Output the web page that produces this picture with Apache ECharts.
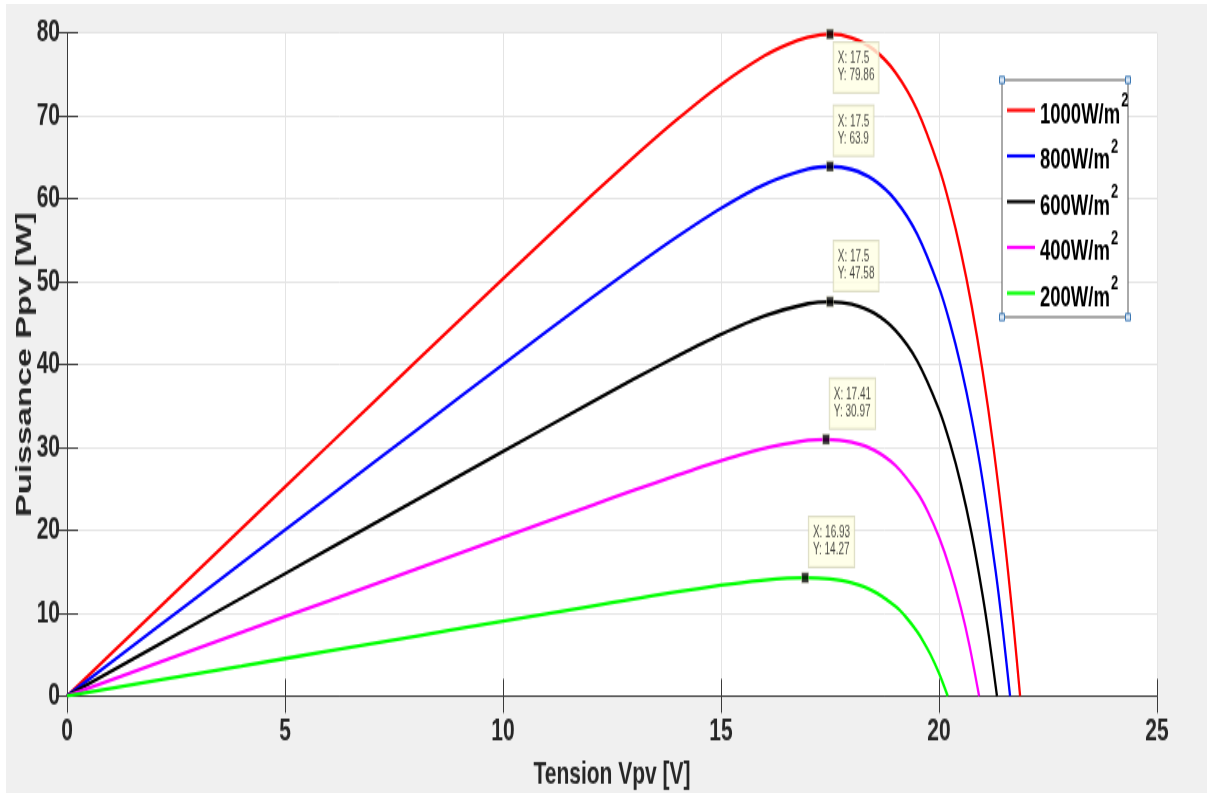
<!DOCTYPE html>
<html>
<head>
<meta charset="utf-8">
<script src="https://cdn.jsdelivr.net/npm/echarts@6/dist/echarts.min.js"></script>
<style>
  html, body { margin: 0; padding: 0; background: #ffffff; width: 1207px; height: 793px; overflow: hidden; }
  #chart { position: absolute; left: 6px; top: 4px; width: 1201px; height: 509px;
           transform: scaleY(1.5501); transform-origin: 0 0; }
</style>
</head>
<body>
<div id="chart"></div>
<script>
// ---- data (Tension Vpv [V], Puissance Ppv [W]) ----
const seriesNames = ['1000W/m²', '800W/m²', '600W/m²', '400W/m²', '200W/m²'];
const seriesColors = ['#ff0000', '#0000ff', '#000000', '#ff00ff', '#00ff00'];

const v1000 = [0, 2, 4, 6, 8, 10, 12, 13, 14, 15, 16, 16.5, 17, 17.5, 18, 18.5, 19, 19.5, 20, 20.25, 20.5, 20.75, 21, 21.25, 21.5, 21.7, 21.86];
const p1000 = [0, 10.09, 20.18, 30.26, 40.34, 50.36, 60.24, 65.03, 69.60, 73.78, 77.27, 78.58, 79.48, 79.86, 79.41, 78.0, 75.26, 70.71, 63.78, 59.17, 53.65, 47.05, 39.2, 29.98, 19.09, 9.02, 0];

const v800 = [0, 2, 4, 6, 8, 10, 12, 13, 14, 15, 16, 17, 17.5, 18, 18.5, 19, 19.5, 20, 20.25, 20.5, 20.75, 21, 21.3, 21.45, 21.63];
const p800 = [0, 8.01, 16.02, 24.03, 32.03, 40.02, 47.90, 51.75, 55.44, 58.86, 61.74, 63.59, 63.9, 63.53, 62.29, 59.84, 55.72, 49.32, 45.01, 39.8, 33.51, 26.0, 15.02, 8.61, 0];

const v600 = [0, 2, 4, 6, 8, 10, 12, 13, 14, 15, 16, 17, 17.5, 18, 18.5, 19, 19.5, 20, 20.25, 20.5, 20.75, 21, 21.15, 21.33];
const p600 = [0, 5.91, 11.81, 17.72, 23.62, 29.51, 35.36, 38.24, 41.02, 43.63, 45.87, 47.35, 47.58, 47.29, 46.24, 44.12, 40.44, 34.58, 30.55, 25.61, 19.54, 12.17, 7.02, 0];

const v400 = [0, 2, 4, 6, 8, 10, 12, 13, 14, 15, 16, 17, 17.41, 18, 18.5, 19, 19.5, 19.75, 20, 20.25, 20.5, 20.7, 20.92];
const p400 = [0, 3.83, 7.66, 11.48, 15.31, 19.13, 22.94, 24.82, 26.65, 28.38, 29.88, 30.85, 30.97, 30.65, 29.71, 27.83, 24.54, 22.17, 19.16, 15.38, 10.66, 6.06, 0];

const v200 = [0, 2, 4, 6, 8, 10, 12, 13, 14, 15, 16, 16.93, 17.5, 18, 18.5, 19, 19.25, 19.5, 19.65, 19.8, 20.0, 20.2];
const p200 = [0, 1.81, 3.61, 5.42, 7.22, 9.03, 10.82, 11.71, 12.57, 13.36, 14.0, 14.27, 14.12, 13.64, 12.63, 10.82, 9.48, 7.76, 6.50, 5.05, 2.76, 0];

// data tips (maximum power points)
const tipX = [17.5, 17.5, 17.5, 17.41, 16.93];
const tipY = [79.86, 63.9, 47.58, 30.97, 14.27];

const xTicks = { min: 0, max: 25, interval: 5 };
const yTicks = { min: 0, max: 80, interval: 10 };

const xTitle = 'Tension Vpv [V]';
const yTitle = 'Puissance Ppv [W]';

// ---- build ----
const allV = [v1000, v800, v600, v400, v200];
const allP = [p1000, p800, p600, p400, p200];

const FONT = '"Liberation Sans", Arial, Helvetica, sans-serif';
const AX = '#3a3a3a';
const TXT = '#262626';

const series = seriesNames.map((name, i) => ({
  name: name,
  type: 'line',
  data: allV[i].map((v, k) => [v, allP[i][k]]),
  showSymbol: false,
  symbol: 'none',
  smooth: 0.25,
  lineStyle: { color: seriesColors[i], width: 2.3 },
  itemStyle: { color: seriesColors[i] },
  z: 3
}));

series.push({
  name: 'tips',
  type: 'scatter',
  data: tipX.map((x, i) => ({
    value: [x, tipY[i]],
    label: {
      position: i === 0 ? [7.5, 9] : [7.5, -35.5]
    }
  })),
  symbol: 'rect',
  symbolSize: [7, 6.5],
  itemStyle: { color: '#000000', borderColor: '#e8e8c8', borderWidth: 0.5 },
  z: 10,
  silent: true,
  label: {
    show: true,
    formatter: (p) => 'X: ' + tipX[p.dataIndex] + '\nY: ' + tipY[p.dataIndex],
    fontFamily: FONT,
    fontSize: 10,
    lineHeight: 11,
    color: '#1a1a1a',
    backgroundColor: '#ffffe4',
    borderColor: '#d4d4b8',
    borderWidth: 1,
    padding: [5, 4, 5, 4],
    align: 'left',
    verticalAlign: 'top'
  }
});

const chart = echarts.init(document.getElementById('chart'), null, { renderer: 'canvas' });

const legendLeft = 996, legendTop = 49, legendW = 126, legendH = 153;
const handle = (cx, cy) => ({
  type: 'rect',
  shape: { x: cx - 2.5, y: cy - 2.2, width: 5, height: 4.4 },
  style: { fill: '#dbe8f6', stroke: '#3c78b4', lineWidth: 1 },
  z: 20
});

chart.setOption({
  backgroundColor: '#f0f0f0',
  animation: false,
  grid: {
    left: 61, right: 50, top: 18.7, bottom: 62.6,
    containLabel: false, outerBoundsMode: 'none',
    show: true, backgroundColor: '#ffffff', borderWidth: 0
  },
  xAxis: [{
    type: 'value', min: xTicks.min, max: xTicks.max, interval: xTicks.interval,
    position: 'bottom',
    name: xTitle, nameLocation: 'middle', nameGap: 40, nameMoveOverlap: false,
    nameTextStyle: { fontFamily: FONT, fontSize: 21, fontWeight: 'bold', color: TXT },
    axisLine: { show: true, lineStyle: { color: AX, width: 1 } },
    axisTick: { show: true, inside: true, length: 11, lineStyle: { color: AX } },
    axisLabel: { margin: 12, fontFamily: FONT, fontSize: 21, fontWeight: 'bold', color: TXT, showMinLabel: true, showMaxLabel: true },
    splitLine: { show: true, lineStyle: { color: '#e4e4e4', width: 1 } }
  }, {
    type: 'value', min: xTicks.min, max: xTicks.max, interval: xTicks.interval,
    position: 'top',
    axisLine: { show: true, lineStyle: { color: AX, width: 1 } },
    axisTick: { show: true, inside: true, length: 11, lineStyle: { color: AX } },
    axisLabel: { show: false },
    splitLine: { show: false }
  }],
  yAxis: [{
    type: 'value', min: yTicks.min, max: yTicks.max, interval: yTicks.interval,
    position: 'left',
    name: yTitle, nameLocation: 'middle', nameGap: 31, nameMoveOverlap: false,
    nameTextStyle: { fontFamily: FONT, fontSize: 22, fontWeight: 'bold', color: TXT },
    axisLine: { show: true, lineStyle: { color: AX, width: 1 } },
    axisTick: { show: true, inside: true, length: 11, lineStyle: { color: AX } },
    axisLabel: { margin: 7, fontFamily: FONT, fontSize: 21, fontWeight: 'bold', color: TXT, showMinLabel: true, showMaxLabel: true },
    splitLine: { show: true, lineStyle: { color: '#e4e4e4', width: 1 } }
  }, {
    type: 'value', min: yTicks.min, max: yTicks.max, interval: yTicks.interval,
    position: 'right',
    axisLine: { show: true, lineStyle: { color: AX, width: 1 } },
    axisTick: { show: true, inside: true, length: 11, lineStyle: { color: AX } },
    axisLabel: { show: false },
    splitLine: { show: false }
  }],
  legend: {
    data: seriesNames,
    orient: 'vertical',
    left: legendLeft, top: legendTop + 7,
    padding: [0, 0, 0, 5],
    itemWidth: 28, itemHeight: 2.2,
    itemGap: 4.5,
    icon: 'rect',
    selectedMode: false,
    z: 21,
    formatter: (name) => '{a|' + name.replace('²', '') + '}{b|2}',
    textStyle: {
      rich: {
        a: { fontFamily: FONT, fontSize: 18.5, fontWeight: 'bold', color: '#000', verticalAlign: 'bottom', padding: [6, 0, 0, 0] },
        b: { fontFamily: FONT, fontSize: 13, fontWeight: 'bold', color: '#000', verticalAlign: 'top', padding: [0, 0, 0, 1] }
      }
    }
  },
  graphic: [
    {
      type: 'rect',
      shape: { x: legendLeft, y: legendTop, width: legendW, height: legendH },
      style: { fill: '#ffffff', stroke: '#555555', lineWidth: 1 },
      z: 19
    },
    handle(legendLeft, legendTop),
    handle(legendLeft + legendW, legendTop),
    handle(legendLeft, legendTop + legendH),
    handle(legendLeft + legendW, legendTop + legendH)
  ],
  series: series
});
</script>
</body>
</html>
